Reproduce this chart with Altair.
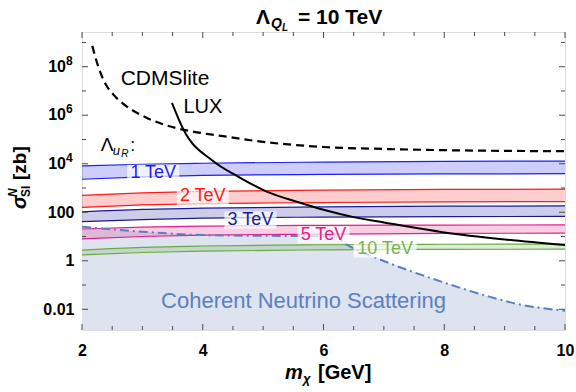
import altair as alt
import pandas as pd

FONT = "Liberation Sans"
W, H = 483, 298

# ---------------- data ----------------
band_x = [2, 3, 4, 6, 8, 10]
b1_hi = [8130, 9550, 10500, 11700, 12600, 12900]
b1_lo = [2290, 2880, 3310, 3630, 3800, 3890]
b2_hi = [501, 631, 724, 813, 871, 891]
b2_lo = [158, 200, 229, 251, 269, 275]
b3_hi = [105, 132, 148, 166, 178, 182]
b3_lo = [40.7, 50.1, 57.5, 63.1, 66.1, 67.6]
b5_hi = [20.4, 24.5, 26.9, 28.8, 29.5, 30.2]
b5_lo = [7.94, 10.0, 11.5, 12.6, 13.5, 13.8]
b10_hi = [2.75, 3.55, 4.07, 4.57, 4.79, 4.90]
b10_lo = [1.74, 2.19, 2.51, 2.82, 2.95, 3.02]

band_names = ["1 TeV", "2 TeV", "3 TeV", "5 TeV", "10 TeV"]
band_colors = ["#1f1ff5", "#ff1a1a", "#1a1a99", "#e0208a", "#6aaa44"]
label_colors = ["#1f1ff5", "#ff1a1a", "#1a1a99", "#e0208a", "#78b450"]

cdms_x = [2.17, 2.27, 2.37, 2.52, 2.68, 2.90, 3.10, 3.35, 3.59, 3.83, 4.5, 5, 5.5, 6, 7, 8, 9, 10]
cdms_y = [7.24e8, 1.0e8, 2.40e7, 7.08e6, 3.02e6, 1.29e6, 7.24e5, 4.17e5, 2.82e5, 2.14e5,
          1.20e5, 7.94e4, 6.03e4, 4.90e4, 4.07e4, 3.63e4, 3.39e4, 3.31e4]

lux_x = [3.49, 3.68, 4.17, 4.57, 5.06, 5.6, 6.0, 6.5, 7, 8, 9, 10]
lux_y = [3.24e6, 2.57e5, 1.29e4, 3090, 708, 251, 126, 63.1, 38.0, 14.8, 7.59, 4.47]

coh_x = [2, 3, 4, 5, 5.6, 6.17, 6.39, 7.05, 7.82, 8.76, 9.17, 10]
coh_y = [25.1, 15.8, 11.5, 10.7, 10.5, 10.0, 4.57, 0.871, 0.178, 0.0324, 0.0174, 0.0087]

label_x = [3.18, 4.0, 4.79, 6.0, 7.02]
label_y = [4040, 457, 47.4, 11.5, 3.06]
label_w = [52, 52, 52, 52, 63]

Y_DOMAIN = [1.4e-3, 2.7e9]
x_major = [2, 4, 6, 8, 10]
x_minor = [2.5, 3, 3.5, 4.5, 5, 5.5, 6.5, 7, 7.5, 8.5, 9, 9.5]
y_major = [1e-2, 1, 1e2, 1e4, 1e6, 1e8]
y_minor = [1e-1, 1e1, 1e3, 1e5, 1e7, 1e9]
y_pow_vals = [1e4, 1e6, 1e8]
y_pow_exps = ["4", "6", "8"]

COH_FILL = "#dde3ef"
COH_LINE = "#5b80c0"
FRAME = "#4a4a4a"

# ---------------- tables ----------------
rows = []
his = [b1_hi, b2_hi, b3_hi, b5_hi, b10_hi]
los = [b1_lo, b2_lo, b3_lo, b5_lo, b10_lo]
for name, hi, lo in zip(band_names, his, los):
    for x, h, l in zip(band_x, hi, lo):
        rows.append({"x": x, "hi": h, "lo": l, "band": name})
bands = pd.DataFrame(rows)
cdms = pd.DataFrame({"x": cdms_x, "y": cdms_y})
lux = pd.DataFrame({"x": lux_x, "y": lux_y})
coh = pd.DataFrame({"x": coh_x, "y": coh_y, "floor": [Y_DOMAIN[0]] * len(coh_x)})
pows = pd.DataFrame({"y": y_pow_vals, "e": y_pow_exps})


def box_path(w, h=17):
    r = h / w
    return f"M-1,-{r:.3f}L1,-{r:.3f}L1,{r:.3f}L-1,{r:.3f}Z"


labels = pd.DataFrame({
    "x": label_x, "y": label_y, "text": band_names, "color": label_colors,
    "shape": [box_path(w) for w in label_w], "size": [w * w for w in label_w],
})

xs = alt.Scale(domain=[2, 10], nice=False, zero=False)
ys = alt.Scale(type="log", domain=Y_DOMAIN, nice=False)
cs = alt.Scale(domain=band_names, range=band_colors)

x_axis = alt.Axis(values=x_major, ticks=False, domain=False, grid=False, title=None,
                  labelFont=FONT, labelFontSize=16, labelFontWeight="bold", labelColor="black",
                  labelPadding=12, labelFlush=False, labelOverlap=False, format="d")
y_axis = alt.Axis(values=y_major, ticks=False, domain=False, grid=False, title=None,
                  labelFont=FONT, labelFontSize=16, labelFontWeight="bold", labelColor="black",
                  labelPadding=8, labelOverlap=False,
                  labelExpr="datum.value < 0.05 ? '0.01' : datum.value < 5 ? '1' : datum.value < 500 ? '100' : ''")

X = lambda f="x": alt.X(f"{f}:Q", scale=xs, axis=x_axis)
Y = lambda f="y": alt.Y(f"{f}:Q", scale=ys, axis=y_axis)

layers = []

# coherent neutrino region
layers.append(alt.Chart(coh).mark_area(color=COH_FILL, clip=True).encode(
    x=X(), y=Y(), y2="floor"))

# bands
layers.append(alt.Chart(bands).mark_area(opacity=0.22, interpolate="monotone").encode(
    x=X(), y=Y("hi"), y2="lo", color=alt.Color("band:N", scale=cs, legend=None)))
for f in ["hi", "lo"]:
    layers.append(alt.Chart(bands).mark_line(strokeWidth=1.2, interpolate="monotone").encode(
        x=X(), y=Y(f), color=alt.Color("band:N", scale=cs, legend=None)))

# coherent line
layers.append(alt.Chart(coh).mark_line(color=COH_LINE, strokeWidth=2, strokeDash=[9, 4, 2, 4],
                                        interpolate="monotone", clip=True).encode(x=X(), y=Y()))
# CDMSlite
layers.append(alt.Chart(cdms).mark_line(color="black", strokeWidth=2.2, strokeDash=[8, 5],
                                         interpolate="monotone", clip=True).encode(x=X(), y=Y()))
# LUX
layers.append(alt.Chart(lux).mark_line(color="black", strokeWidth=2,
                                        interpolate="monotone", clip=True).encode(x=X(), y=Y()))

# label boxes and texts
layers.append(alt.Chart(labels).mark_point(filled=True, fill="white", opacity=0.7, strokeWidth=0).encode(
    x=X(), y=Y(), shape=alt.Shape("shape:N", scale=None), size=alt.Size("size:Q", scale=None)))
layers.append(alt.Chart(labels).mark_text(font=FONT, fontSize=18, baseline="middle").encode(
    x=X(), y=Y(), text="text:N", color=alt.Color("color:N", scale=None)))


def note(x, y, text, size=18, color="black", style="normal", align="left", baseline="alphabetic"):
    return alt.Chart(pd.DataFrame({"x": [x], "y": [y], "t": [text]})).mark_text(
        font=FONT, fontSize=size, color=color, fontStyle=style, align=align, baseline=baseline
    ).encode(x=X(), y=Y(), text="t:N")


layers.append(note(2.64, 1.82e7, "CDMSlite", 21))
layers.append(note(3.68, 1.29e6, "LUX", 20))
layers.append(note(2.31, 3.24e4, "\u039b", 19))
layers.append(note(2.51, 2.21e4, "u", 13, style="italic"))
layers.append(note(2.65, 1.83e4, "R", 10, style="italic"))
layers.append(note(2.80, 3.24e4, ":", 18))
layers.append(note(5.67, 0.0224, "Coherent Neutrino Scattering", 22, COH_LINE, align="center", baseline="middle"))

# y tick labels of the form 10^n
layers.append(alt.Chart(pows).mark_text(font=FONT, fontSize=16, fontWeight="bold", align="right",
                                         baseline="middle", color="black").encode(
    y=Y(), x=alt.value(-16), text=alt.value("10")))
layers.append(alt.Chart(pows).mark_text(font=FONT, fontSize=12, fontWeight="bold", align="left",
                                         baseline="middle", dy=-6, color="black").encode(
    y=Y(), x=alt.value(-16), text="e:N"))


# ticks (inward)
def xt(vals, y0, y1):
    return alt.Chart(pd.DataFrame({"x": vals})).mark_rule(color=FRAME, strokeWidth=1).encode(
        x=X(), y=alt.value(y0), y2=alt.value(y1))


def yt(vals, x0, x1):
    return alt.Chart(pd.DataFrame({"y": vals})).mark_rule(color=FRAME, strokeWidth=1).encode(
        y=Y(), x=alt.value(x0), x2=alt.value(x1))


layers += [xt(x_major, H, H - 6), xt(x_minor, H, H - 4), xt(x_major, 0, 6), xt(x_minor, 0, 4),
           yt(y_major, 0, 6), yt(y_minor, 0, 4), yt(y_major, W, W - 6), yt(y_minor, W, W - 4)]


# titles built from pieces (pixel positions relative to the plot area)
def piece(px, py, text, size, weight="bold", style="normal", angle=0):
    return alt.Chart(pd.DataFrame({"t": [text]})).mark_text(
        font=FONT, fontSize=size, fontWeight=weight, fontStyle=style, align="left",
        baseline="alphabetic", angle=angle, color="black"
    ).encode(x=alt.value(px), y=alt.value(py), text="t:N")


layers += [
    piece(174, -8, "\u039b", 21),
    piece(189, -4, "Q", 14, style="italic"),
    piece(200, -1, "L", 10, style="italic"),
    piece(216, -8, "= 10 TeV", 21),
    piece(203, 347, "m", 20, style="italic"),
    piece(221, 351, "\u03c7", 13, style="italic"),
    piece(236, 347, "[GeV]", 20),
    piece(-56, 177, "\u03c3", 20, style="italic", angle=270),
    piece(-65, 165, "N", 12, style="italic", angle=270),
    piece(-52, 165, "SI", 12, angle=270),
    piece(-56, 148, "[zb]", 19, angle=270),
]

chart = alt.layer(*layers).properties(
    width=W, height=H, autosize=alt.AutoSizeParams(type="none"),
    padding={"left": 82, "top": 32, "right": 11, "bottom": 62},
).configure_view(stroke=FRAME, strokeWidth=1.3).configure(background="white")

chart.save("out.html", embed_options={"renderer": "svg", "actions": False})
